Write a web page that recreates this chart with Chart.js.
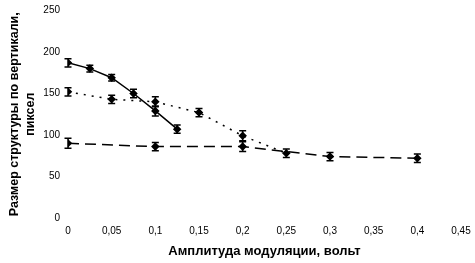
<!DOCTYPE html>
<html><head><meta charset="utf-8">
<script src="https://cdn.jsdelivr.net/npm/chart.js@4.4.0/dist/chart.umd.min.js"></script>
<style>html,body{margin:0;padding:0;background:#fff}#wrap{width:475px;height:263px}</style>
</head><body><div id="wrap"><canvas id="c" width="475" height="263"></canvas></div>
<script>
const solidX = [0, 0.025, 0.05, 0.075, 0.1, 0.125];
const solidY = [187, 180, 169, 150, 129, 107];
const solidErr = [5, 4, 4, 5, 6, 5];
const dottedX = [0, 0.05, 0.1, 0.15, 0.2, 0.25];
const dottedY = [152, 143, 140, 127, 99, 78];
const dottedErr = [5, 5, 6, 5, 6, 5];
const dashedX = [0, 0.1, 0.2, 0.3, 0.4];
const dashedY = [90, 86, 86, 74, 72];
const dashedErr = [6, 5, 6, 5, 5];
const xTicks = [0, 0.05, 0.1, 0.15, 0.2, 0.25, 0.3, 0.35, 0.4, 0.45];
const yTicks = [0, 50, 100, 150, 200, 250];

function pts(xs, ys, es){ return xs.map((x,i)=>({x:x, y:ys[i], e:es[i]})); }

const errorBars = {
  id:'errorBars',
  afterDatasetsDraw(chart){
    const ctx = chart.ctx, xs = chart.scales.x, ys = chart.scales.y;
    ctx.save();
    ctx.strokeStyle = '#000'; ctx.lineWidth = 1.5; ctx.setLineDash([]);
    chart.data.datasets.forEach(ds=>{
      ds.data.forEach(p=>{
        const px = xs.getPixelForValue(p.x);
        const y1 = ys.getPixelForValue(p.y + p.e), y2 = ys.getPixelForValue(p.y - p.e);
        ctx.beginPath();
        ctx.moveTo(px, y1); ctx.lineTo(px, y2);
        ctx.moveTo(px-3.5, y1); ctx.lineTo(px+3.5, y1);
        ctx.moveTo(px-3.5, y2); ctx.lineTo(px+3.5, y2);
        ctx.stroke();
      });
    });
    ctx.restore();
  }
};

const fontFam = "'Liberation Sans', Arial, sans-serif";
const common = {borderColor:'#000', backgroundColor:'#000', pointBackgroundColor:'#000', pointBorderColor:'#000', pointStyle:'rectRot', pointRadius:3.2, borderWidth:1.5, tension:0, fill:false};

new Chart(document.getElementById('c'), {
  type:'line',
  data:{datasets:[
    Object.assign({label:'solid', data:pts(solidX, solidY, solidErr)}, common),
    Object.assign({label:'dotted', data:pts(dottedX, dottedY, dottedErr), borderDash:[2,6]}, common),
    Object.assign({label:'dashed', data:pts(dashedX, dashedY, dashedErr), borderDash:[11,6]}, common)
  ]},
  options:{
    responsive:false, animation:false, devicePixelRatio:1,
    layout:{padding:{top:10.5, right:14, left:0, bottom:0}},
    plugins:{legend:{display:false}, tooltip:{enabled:false}},
    scales:{
      x:{type:'linear', min:0, max:0.45,
        afterBuildTicks(s){ s.ticks = xTicks.map(v=>({value:v})); },
        afterFit(s){ s.height = 45; s.paddingLeft = 0; s.paddingRight = 0; },
        grid:{display:false, drawTicks:false}, border:{display:false},
        ticks:{padding:7, color:'#000', font:{family:fontFam, size:10}, maxRotation:0, autoSkip:false,
          callback:(v)=>String(v).replace('.', ',')},
        title:{display:true, text:'Амплитуда модуляции, вольт', color:'#000', font:{family:fontFam, size:13, weight:'bold', lineHeight:'14px'}, padding:{top:0,bottom:5}}
      },
      y:{type:'linear', min:0, max:250,
        afterBuildTicks(s){ s.ticks = yTicks.map(v=>({value:v})); },
        afterFit(s){ s.width = 68; s.paddingTop = 0; s.paddingBottom = 0; },
        grid:{display:false, drawTicks:false}, border:{display:false},
        ticks:{padding:8, color:'#000', font:{family:fontFam, size:10}},
        title:{display:true, text:['Размер структуры по вертикали,', 'пиксел'], color:'#000', font:{family:fontFam, size:12.5, weight:'bold', lineHeight:'16px'}, padding:{top:6.5,bottom:0}}
      }
    }
  },
  plugins:[errorBars]
});
</script></body></html>
